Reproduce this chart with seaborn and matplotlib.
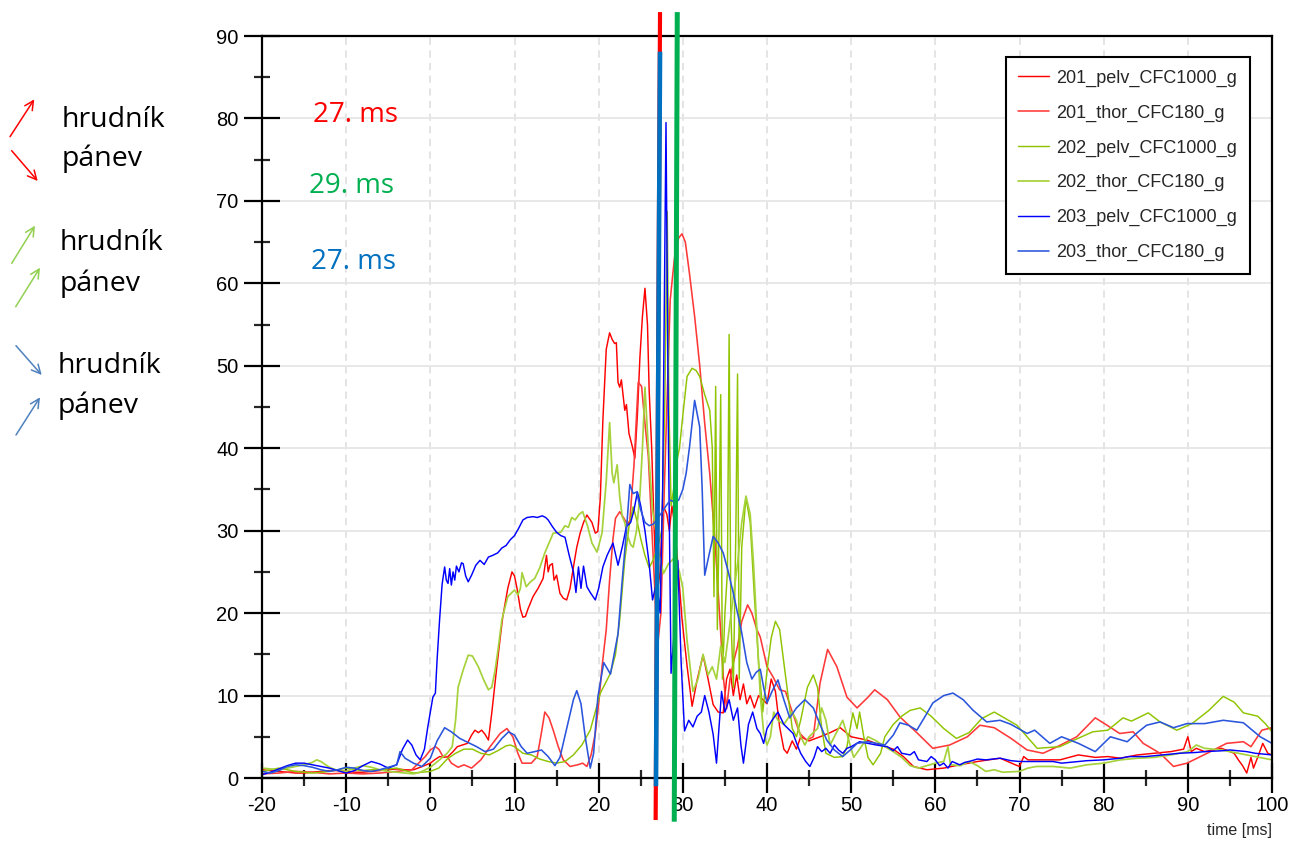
import matplotlib
matplotlib.use("Agg")
import matplotlib.pyplot as plt
import numpy as np
import pandas as pd
import seaborn as sns
from matplotlib.patches import FancyArrowPatch
from matplotlib.ticker import MultipleLocator

# ---------------- data (time [ms], acceleration [g]) ----------------
pelv_201 = [(-20,1.0),(-19,0.9),(-18,0.8),(-17,0.7),(-16,0.6),(-15,0.6),(-14,0.7),(-13,0.8),(-12,0.9),(-11,0.9),
    (-10,0.8),(-9,0.7),(-8,0.7),(-7,0.8),(-6,0.9),(-5,1.0),(-4,1.1),(-3,1.0),(-2,1.0),(-1.2,1.3),(-0.5,1.6),(0,1.8),
    (0.5,2.2),(1.1,2.6),(1.6,2.5),(2.1,2.6),(2.7,3.2),(3.2,3.8),(3.8,4.0),(4.4,4.2),(4.9,5.2),(5.3,5.8),(5.7,5.5),
    (6.1,5.8),(6.5,5.3),(6.9,4.6),(7.3,7.9),(7.9,13.5),(8.3,17),(8.6,19.5),(9.2,23),(9.7,25.0),(10.0,24.5),(10.3,23.0),
    (10.7,20.5),(11.0,19.5),(11.3,19.6),(11.6,20.5),(12.2,22.0),(12.8,23.0),(13.4,24.2),(13.8,27.0),(14.0,25.0),
    (14.2,25.8),(14.5,26.0),(14.7,24.0),(15.0,24.6),(15.4,22.4),(15.8,21.8),(16.2,21.6),(16.6,23.0),(17.0,25.6),
    (17.4,28.0),(17.8,29.7),(18.2,31.0),(18.6,31.9),(19.2,31.0),(19.6,29.7),(19.9,29.9),(20.2,34.0),(20.5,43.4),
    (20.9,52.0),(21.3,54.0),(21.6,53.2),(21.9,52.7),(22.1,52.8),(22.3,48.0),(22.5,47.4),(22.7,48.3),(22.9,46.5),
    (23.1,44.6),(23.3,45.3),(23.6,41.8),(24.0,40.2),(24.3,38.8),(24.6,44.0),(24.9,51.0),(25.2,56.0),(25.5,59.4),
    (25.8,55.0),(26.0,47.0),(26.3,40.0),(26.6,30.0),(26.9,22.0),(27.3,25.0),(27.6,33.0),(27.9,32.5),(28.1,32.0),
    (28.4,30.0),(28.7,33.0),(29.0,31.0),(29.3,27.3),(29.9,19.3),(30.5,13.6),(31.1,8.7),(31.7,11.9),(32.4,14.9),
    (33.0,12.0),(33.6,8.9),(34.2,8.0),(34.8,7.9),(35.2,12.0),(35.6,13.2),(36.0,10.0),(36.4,12.5),(36.8,9.5),
    (37.2,11.4),(37.6,9.0),(38.0,10.0),(38.5,8.5),(39.0,10.0),(39.5,9.5),(40.0,9.0),(40.5,12.0),(41.0,10.5),
    (41.5,6.2),(42.0,3.5),(42.4,3.0),(43.0,4.5),(43.5,3.5),(44.0,5.0),(45.0,4.5),(46.3,5.0),(47.5,5.5),(48.7,6.1),
    (50.0,5.0),(51.9,4.6),(53.4,4.0),(55.0,3.5),(56.2,2.6),(57.4,1.4),(59.0,1.0),(61.0,1.2),(62.9,1.6),(65.0,2.0),
    (67.7,2.4),(69.5,1.6),(70.0,1.4),(70.5,2.6),(71.0,2.2),(73.0,2.2),(74.8,2.2),(77.0,2.8),(79.0,2.5),(80.5,2.6),
    (82.0,2.4),(84.0,2.8),(86.0,3.0),(88.0,3.2),(89.5,3.5),(90.0,5.0),(90.4,3.2),(91.0,3.6),(92.0,3.2),(94.0,3.6),
    (95.5,3.0),(96.0,2.2),(96.5,1.5),(97.0,0.6),(97.5,2.5),(97.8,1.2),(98.3,2.5),(98.9,4.2),(99.5,3.0),(100.0,2.8)]

thor_201 = [(-20,0.5),(-18,0.6),(-16,0.8),(-14,0.7),(-12,0.5),(-10,0.6),(-8,0.5),(-6,0.6),(-4,0.8),(-2.2,1.0),
    (-1.4,1.8),(-0.6,2.6),(0,3.4),(0.6,3.8),(1.0,3.5),(1.5,2.6),(2.0,2.6),(2.5,1.8),(3.3,1.3),(4.0,1.6),(4.9,1.2),
    (6.0,2.2),(7.1,3.8),(8.3,5.4),(9.1,6.0),(9.8,5.0),(10.4,3.0),(10.9,1.8),(12.0,1.8),(12.7,2.6),(13.2,5.5),
    (13.6,8.0),(14.1,7.3),(14.6,5.8),(15.2,3.8),(15.8,2.2),(16.6,1.4),(17.5,1.6),(18.1,1.8),(18.6,1.4),(19.1,2.8),
    (19.6,5.4),(20.0,9.0),(20.4,13.5),(20.9,18.0),(21.3,24.0),(21.7,29.0),(22.0,31.5),(22.5,32.3),(23.0,31.5),
    (23.4,30.8),(23.7,31.2),(24.2,38.0),(24.7,48.0),(25.1,47.5),(25.5,43.0),(25.9,39.0),(26.5,26.4),(27.0,16.0),
    (27.4,20.0),(27.8,35.0),(28.1,45.0),(28.5,58.0),(29.0,63.0),(29.5,65.5),(29.9,66.0),(30.3,65.0),(30.8,61.1),
    (31.4,56.0),(32.0,50.1),(32.6,43.0),(33.2,36.9),(33.8,29.0),(34.4,19.3),(34.8,12.4),(35.2,8.4),(35.6,12.0),
    (36.0,14.0),(36.5,16.0),(37.0,19.0),(37.7,21.0),(38.2,20.0),(38.8,18.0),(39.2,17.1),(40.0,13.5),(40.7,12.3),
    (41.5,10.7),(42.2,10.5),(43.0,8.0),(43.9,5.4),(44.7,4.6),(45.5,5.0),(46.3,11.5),(47.2,15.6),(48.3,13.5),
    (49.5,9.8),(50.7,8.5),(52.0,9.8),(52.8,10.7),(54.3,9.5),(55.8,7.4),(57.8,5.5),(59.7,3.6),(61.7,4.0),(63.8,5.0),
    (65.3,6.4),(67.0,6.1),(69.0,4.8),(70.9,3.4),(72.8,3.0),(74.5,3.8),(76.8,5.0),(79.0,7.3),(80.4,6.4),(81.9,5.4),
    (83.5,5.6),(84.7,4.2),(86.7,3.0),(88.3,1.4),(89.9,1.8),(92.3,3.0),(94.6,4.2),(96.6,4.4),(97.5,3.8),(98.8,5.8),
    (100.0,6.1)]

pelv_202 = [(-20,0.8),(-19,1.0),(-18,1.2),(-17,1.0),(-16,0.8),(-15,0.7),(-14,0.6),(-13,0.7),(-12,0.8),(-11,1.0),
    (-10,1.2),(-9,1.0),(-8,0.9),(-7,1.0),(-6,1.0),(-5,1.1),(-4,1.2),(-3,0.9),(-2,0.6),(-1,0.7),(0,0.8),(1,1.2),
    (2,2.3),(3,3.0),(4,3.5),(5,3.5),(6,3.0),(7,2.8),(8,3.3),(9,3.9),(9.5,4.0),(10,3.8),(11,3.0),(12,2.8),(13,2.3),
    (14,2.0),(15,1.8),(16,2.0),(17,2.8),(18,4.0),(19,5.8),(20.2,10.3),(21.4,12.7),(22.0,15.0),(22.5,19.2),
    (23.1,26.4),(23.6,30.5),(24.1,32.9),(24.6,31.0),(25.0,29.0),(25.5,27.0),(26.0,25.5),(26.5,26.5),(27.0,28.0),
    (27.5,30.0),(27.85,45.0),(28.15,68.7),(28.35,45.0),(28.6,33.0),(28.9,35.0),(29.2,38.0),(29.6,40.0),(30.0,44.0),
    (30.5,48.7),(31.1,49.7),(31.6,49.4),(32.0,48.7),(32.6,46.5),(33.2,44.6),(33.5,40.0),(33.7,22.0),(33.9,47.5),
    (34.1,18.0),(34.3,30.0),(34.5,46.5),(34.7,12.0),(35.0,20.0),(35.3,25.0),(35.5,53.8),(35.7,20.0),(36.0,11.0),
    (36.3,30.0),(36.5,49.0),(36.7,12.0),(37.0,28.0),(37.5,34.0),(38.0,31.0),(38.5,22.0),(39.0,14.0),(39.5,8.0),
    (40.0,13.0),(40.5,17.0),(41.0,19.0),(41.5,18.0),(42.0,14.0),(42.5,10.0),(43.0,6.0),(43.5,5.0),(44.0,7.0),
    (44.8,11.0),(45.5,12.5),(46.0,11.0),(46.5,6.0),(47.0,3.0),(48.0,2.5),(49.0,2.6),(49.5,3.8),(50.2,7.9),(50.7,6.0),
    (51.0,8.0),(51.5,5.0),(52.0,2.5),(52.6,1.6),(53.5,3.0),(54.0,5.0),(55.0,6.5),(56.0,7.5),(57.0,8.2),(58.2,8.5),
    (59.5,7.5),(61.0,6.0),(62.5,4.8),(64.0,5.5),(65.5,7.2),(67.0,8.0),(69.7,6.4),(70.9,5.0),(72.1,3.6),(74.8,3.8),
    (76.5,4.6),(78.7,5.6),(80.5,5.8),(82.3,7.3),(83.3,6.9),(85.3,7.9),(86.7,6.8),(88.7,5.8),(90.5,6.6),(92.5,8.2),
    (94.2,9.9),(95.5,9.2),(96.6,7.9),(98.3,7.5),(99.2,6.6),(100.0,5.6)]

thor_202 = [(-20,1.2),(-19,1.1),(-18,1.0),(-17,1.2),(-16,1.4),(-15,1.6),(-14,1.9),(-13.5,2.2),(-13,2.0),(-12,1.3),
    (-11,0.9),(-10,0.8),(-9,1.2),(-8,1.5),(-7,1.3),(-6,1.0),(-5,0.8),(-4,0.7),(-3,0.6),(-2,0.5),(-1.2,0.7),(0,1.3),
    (1.1,2.2),(2.0,3.0),(2.6,3.8),(3.0,7.0),(3.3,11.0),(3.9,13.1),(4.5,14.9),(5.0,14.8),(5.7,13.5),(6.3,12.0),
    (6.9,10.7),(7.3,11.0),(7.7,13.1),(8.1,16.0),(8.5,19.2),(9.2,22.0),(10.0,22.8),(10.4,22.2),(10.7,23.0),
    (10.9,24.9),(11.4,23.2),(11.9,23.8),(12.4,24.2),(13.0,25.5),(13.6,27.3),(14.6,29.7),(15.5,29.8),(16.0,30.6),
    (16.4,30.4),(16.8,31.6),(17.2,31.3),(17.7,32.0),(18.1,32.3),(18.7,30.5),(19.2,28.5),(19.8,27.4),(20.4,29.7),
    (20.9,36.0),(21.3,43.1),(21.6,37.0),(21.8,35.8),(22.2,38.0),(22.5,34.1),(22.8,31.7),(23.1,31.0),(23.4,29.5),
    (23.8,28.3),(24.1,28.0),(24.5,30.0),(24.9,34.3),(25.2,40.0),(25.5,47.4),(25.9,40.0),(26.4,32.5),(26.8,30.0),
    (27.2,27.0),(27.7,24.8),(28.3,26.0),(29.1,26.8),(29.6,25.0),(30.0,23.0),(30.5,16.7),(31.2,10.5),(31.8,12.0),
    (32.4,15.0),(33.0,12.5),(33.5,13.5),(34.0,12.0),(34.5,16.0),(35.0,14.0),(35.5,18.0),(36.0,22.0),(36.5,26.0),
    (37.0,31.0),(37.5,34.2),(38.0,32.0),(38.4,26.0),(38.8,18.0),(39.2,10.0),(39.6,5.5),(40.0,4.0),(40.4,5.0),
    (40.8,8.0),(41.3,7.0),(42.0,6.5),(43.0,8.0),(43.5,7.0),(44.0,5.0),(44.5,4.0),(45.0,5.0),(46.0,6.0),(46.5,8.5),
    (47.0,7.0),(47.5,4.0),(48.0,5.0),(49.0,7.0),(49.6,5.0),(50.3,2.5),(51.0,3.5),(52.0,5.0),(53.0,4.5),(54.0,3.8),
    (55.0,3.2),(56.0,2.5),(57.0,1.5),(58.0,1.2),(59.0,1.5),(60.0,1.8),(61.0,2.0),(61.5,3.8),(61.8,1.6),(63.0,1.5),
    (64.0,2.0),(65.0,1.5),(66.0,0.8),(67.0,1.0),(68.0,0.7),(70.0,0.8),(71.0,1.2),(72.0,1.4),(74.0,1.4),(76.0,1.2),
    (78.0,1.6),(80.0,1.8),(82.0,2.2),(84.0,2.4),(86.0,2.5),(88.0,2.8),(90.0,3.2),(91.0,4.0),(92.0,3.6),(94.0,3.4),
    (96.0,3.0),(98.0,2.6),(100.0,2.2)]

pelv_203 = [(-20,0.4),(-19,0.7),(-18,1.1),(-17,1.5),(-16,1.8),(-15,1.8),(-14,1.6),(-13,1.4),(-12,1.2),(-11,0.9),
    (-10,0.6),(-9,0.9),(-8,1.5),(-7,2.0),(-6,1.7),(-5,1.2),(-4,1.6),(-3.3,3.5),(-2.7,4.6),(-2.2,4.0),(-1.7,2.8),
    (-1.2,2.2),(-0.7,3.5),(-0.3,6.2),(0.3,9.8),(0.6,10.3),(0.8,14.3),(1.1,19.2),(1.4,23.5),(1.7,25.6),(1.9,24.0),
    (2.1,23.6),(2.3,25.4),(2.5,23.4),(2.7,25.0),(2.9,24.0),(3.1,25.7),(3.4,25.0),(3.7,26.1),(3.9,26.0),(4.2,24.5),
    (4.5,23.8),(4.9,24.6),(5.4,25.8),(5.9,26.4),(6.4,25.9),(6.9,26.8),(7.4,27.0),(8.0,27.3),(8.5,27.9),(9.0,28.2),
    (9.5,28.9),(10.0,29.4),(10.5,30.3),(11.0,31.3),(11.5,31.6),(12.2,31.7),(12.7,31.6),(13.3,31.8),(13.7,31.6),
    (14.0,31.3),(14.5,30.5),(15.0,29.8),(15.5,29.4),(16.0,29.2),(16.5,27.0),(17.0,25.0),(17.3,22.5),(17.6,25.6),
    (17.9,23.0),(18.2,25.7),(18.6,23.2),(19.0,22.5),(19.6,21.6),(20.0,23.0),(20.5,25.6),(21.0,27.0),(21.7,28.5),
    (22.3,25.8),(22.8,28.0),(23.3,30.5),(23.8,31.0),(24.2,32.5),(24.6,34.7),(25.0,33.0),(25.5,30.0),(26.0,26.0),
    (26.4,21.6),(26.9,23.8),(27.3,20.0),(27.6,35.0),(28.0,79.5),(28.3,40.0),(28.6,12.7),(29.0,18.0),(29.4,26.4),
    (29.8,14.0),(30.2,5.7),(30.7,7.0),(31.2,6.2),(31.7,7.5),(32.2,8.0),(32.6,10.0),(33.1,8.0),(33.6,5.3),(34.0,1.8),
    (34.6,10.5),(35.0,8.0),(35.5,9.5),(36.0,7.0),(36.5,8.5),(36.9,4.0),(37.2,1.8),(37.8,6.5),(38.3,8.0),(38.8,6.0),
    (39.2,5.4),(39.6,4.2),(40.0,6.0),(40.6,7.0),(41.3,8.0),(42.0,6.5),(42.5,6.0),(43.1,5.4),(43.6,4.0),(44.0,3.0),
    (44.6,2.0),(45.1,1.4),(45.6,2.5),(46.0,3.8),(46.5,3.2),(47.0,3.6),(47.5,3.0),(48.0,4.0),(48.5,3.4),(49.0,3.0),
    (49.5,3.6),(50.0,3.8),(51.0,4.4),(52.0,4.2),(53.0,4.0),(54.3,3.8),(55.0,3.3),(55.5,3.8),(56.0,3.0),(57.0,2.8),
    (57.5,3.2),(58.0,2.2),(59.0,2.0),(59.5,2.6),(60.0,2.2),(60.5,1.5),(61.0,1.8),(61.5,1.2),(62.0,2.0),(62.9,1.6),
    (63.5,1.9),(64.0,2.0),(65.0,2.3),(66.0,2.2),(67.7,2.4),(69.0,2.1),(70.0,2.0),(72.0,2.0),(74.0,2.0),(75.0,1.8),
    (77.0,2.0),(78.0,2.1),(80.0,2.2),(82.0,2.4),(83.0,2.6),(85.0,2.6),(86.0,2.7),(88.0,2.9),(89.0,3.0),(91.0,3.1),
    (92.0,3.2),(94.0,3.3),(95.0,3.4),(97.0,3.2),(98.0,3.0),(100.0,2.8)]

thor_203 = [(-20,0.8),(-19,0.6),(-18,0.9),(-17,1.4),(-16,1.6),(-15,1.5),(-14,1.3),(-13,1.0),(-12,0.8),(-11,1.0),
    (-10,1.3),(-9,1.2),(-8,0.9),(-7,0.8),(-6,1.0),(-5,1.3),(-4,1.6),(-3.6,3.2),(-3,2.4),(-2,1.8),(-1,1.4),(0,2.4),
    (0.8,4.5),(1.7,6.1),(2.5,5.6),(3.5,4.8),(4.5,4.3),(5.5,3.8),(6.5,3.2),(7.5,3.5),(8.5,4.8),(9.3,5.6),(10,5.2),
    (10.8,3.8),(11.5,3.0),(12.4,3.2),(13.2,3.4),(14,2.6),(14.8,1.5),(15.4,2.5),(16.2,6.0),(17,9.5),(17.4,10.6),
    (17.9,9.0),(18.4,5.0),(19,1.2),(19.4,3.0),(19.9,9.8),(20.6,14.0),(21.4,12.6),(22.3,17.5),(22.8,24.0),
    (23.3,30.0),(23.7,35.6),(24.1,34.5),(24.5,34.7),(25,32.5),(25.5,31.0),(26,30.6),(26.5,30.8),(27,31.5),
    (27.5,32.2),(28,33.0),(28.5,33.7),(29,33.5),(29.5,33.7),(30,35.0),(30.4,37.0),(30.8,40.2),(31.4,45.8),
    (32,42.6),(32.3,35.0),(32.6,24.6),(33.1,27.0),(33.6,29.3),(34.2,28.5),(34.8,27.3),(35.4,25.0),(36,22.4),
    (36.5,20.0),(37,17.6),(37.6,14.0),(38.2,12.0),(38.7,12.8),(39.2,13.2),(39.6,11.0),(40,9.1),(40.6,10.5),
    (41.3,11.9),(42,9.5),(42.7,7.3),(43.5,8.5),(44.5,9.5),(45.5,8.5),(46.3,6.5),(47.1,4.6),(48,3.4),(49,2.6),
    (50,3.5),(50.7,4.2),(52,4.4),(53,4.2),(54,4.0),(55,5.2),(55.8,6.7),(56.8,6.4),(57.8,5.8),(58.8,7.5),(59.7,9.1),
    (61,10.0),(62.1,10.3),(63.3,9.5),(64.5,8.2),(66.1,6.8),(67.7,7.0),(69,6.5),(70.9,5.4),(71.8,5.8),(72.7,5.0),
    (73.6,4.2),(75,5.0),(77,4.2),(79,3.2),(80.8,5.0),(82.8,4.4),(84,5.5),(85.1,6.4),(86.7,6.8),(88.3,6.1),(89.9,6.6),
    (92,6.6),(94.2,7.0),(96.6,6.7),(98.6,5.0),(100,4.2)]

series_labels = ["201_pelv_CFC1000_g", "201_thor_CFC180_g", "202_pelv_CFC1000_g",
                 "202_thor_CFC180_g", "203_pelv_CFC1000_g", "203_thor_CFC180_g"]
series_points = [pelv_201, thor_201, pelv_202, thor_202, pelv_203, thor_203]

# vertical marker lines (time, value) at their two ends, and their labels
marker_red = [(27.29, 92.9), (26.77, -5.1)]
marker_green = [(29.34, 92.9), (28.98, -5.3)]
marker_blue = [(27.29, 88.1), (26.81, -1.0)]
marker_texts = ["27. ms", "29. ms", "27. ms"]
marker_text_pos = [(-13.9, 79.6), (-14.4, 70.9), (-14.2, 61.7)]

side_words = ["hrudník", "pánev"]

# ---------------- styling ----------------
colors = ["#ff0000", "#ff3838", "#8fc400", "#a6d23c", "#0000ff", "#2a55dc"]
widths = [1.05, 1.15, 1.05, 1.25, 1.05, 1.15]

sns.set_theme(style="white")
plt.rcParams["font.family"] = ["Liberation Sans", "DejaVu Sans"]
plt.rcParams["axes.unicode_minus"] = False

fig = plt.figure(figsize=(13.01, 8.47), dpi=100)
ax = fig.add_axes([262/1301, 1-778/847, (1272-262)/1301, (778-36)/847])

for lab, pts, col, lw in zip(series_labels, series_points, colors, widths):
    df = pd.DataFrame(pts, columns=["t", "v"])
    sns.lineplot(data=df, x="t", y="v", ax=ax, color=col, linewidth=lw, label=lab,
                 estimator=None, sort=False, legend=False)

ax.set_xlim(-20, 100)
ax.set_ylim(0, 90)
ax.set_xlabel("")
ax.set_ylabel("")
ax.xaxis.set_major_locator(MultipleLocator(10))
ax.xaxis.set_minor_locator(MultipleLocator(5))
ax.yaxis.set_major_locator(MultipleLocator(10))
ax.yaxis.set_minor_locator(MultipleLocator(5))

ax.grid(False)
ax.yaxis.grid(True, which="major", color="#e6e6e6", lw=1.3, ls="-")
ax.xaxis.grid(True, which="major", color="#e2e2e2", lw=1.3, ls=(0, (4, 3)))
ax.set_axisbelow(True)

for s in ax.spines.values():
    s.set_visible(True)
    s.set_color("black")
    s.set_linewidth(1.6)

ax.tick_params(axis="x", which="major", direction="inout", length=22, width=1.6, bottom=True,
               labelsize=14.5, pad=2, colors="black")
ax.tick_params(axis="x", which="minor", direction="inout", length=11, width=1.6, bottom=True)
ax.tick_params(axis="y", which="major", direction="inout", length=26, width=1.6, left=True,
               labelsize=14.5, pad=4, colors="black")
ax.tick_params(axis="y", which="minor", direction="inout", length=12, width=1.6, left=True)

# marker lines
for pts, col, lw in [(marker_red, "#ff0000", 3.0), (marker_green, "#00b050", 3.6), (marker_blue, "#0070c0", 3.3)]:
    xs = [p[0] for p in pts]
    ys = [p[1] for p in pts]
    ax.plot(xs, ys, color=col, lw=lw, clip_on=False, solid_capstyle="butt", zorder=5, label="_nolegend_")

for txt, pos, col in zip(marker_texts, marker_text_pos, ["#ff0000", "#00b050", "#0070c0"]):
    ax.text(pos[0], pos[1], txt, color=col, fontsize=20, family=["Open Sans", "DejaVu Sans"],
            ha="left", va="baseline")

ax.text(1.0, -0.0714, "time [ms]", transform=ax.transAxes, ha="right", va="center", fontsize=11.5)

leg = ax.legend(loc="upper right", bbox_to_anchor=(0.978, 0.9717), fontsize=13, frameon=True,
                fancybox=False, edgecolor="black", framealpha=1, labelspacing=0.98,
                handlelength=1.7, borderpad=0.7, handletextpad=0.4, borderaxespad=0)
leg.get_frame().set_linewidth(1.5)

# left-side annotations (figure pixel positions)
side_rows = [(62, 126.7, side_words[0]), (62, 166, side_words[1]),
             (60, 250, side_words[0]), (60, 290.7, side_words[1]),
             (58, 373.3, side_words[0]), (58, 413.3, side_words[1])]
for x, y, w in side_rows:
    fig.text(x/1301, 1 - y/847, w, fontsize=20.5, family=["Open Sans", "DejaVu Sans"],
             ha="left", va="baseline", color="black")

arrows = [((10, 136.7), (34.3, 99.3), "#ff0000"), ((11.7, 150.7), (37.7, 181), "#ff0000"),
          ((11.7, 263.3), (35, 225.7), "#92d050"), ((15.7, 306.7), (40, 267.7), "#92d050"),
          ((16, 345.7), (41.7, 375), "#4f81bd"), ((16, 435), (40, 397.3), "#4f81bd")]
for a, b, col in arrows:
    p = FancyArrowPatch((a[0]/1301, 1 - a[1]/847), (b[0]/1301, 1 - b[1]/847),
                        transform=fig.transFigure, arrowstyle="->", mutation_scale=16,
                        lw=1.1, color=col, shrinkA=0, shrinkB=0)
    fig.add_artist(p)

fig.savefig("out.png", dpi=100)
